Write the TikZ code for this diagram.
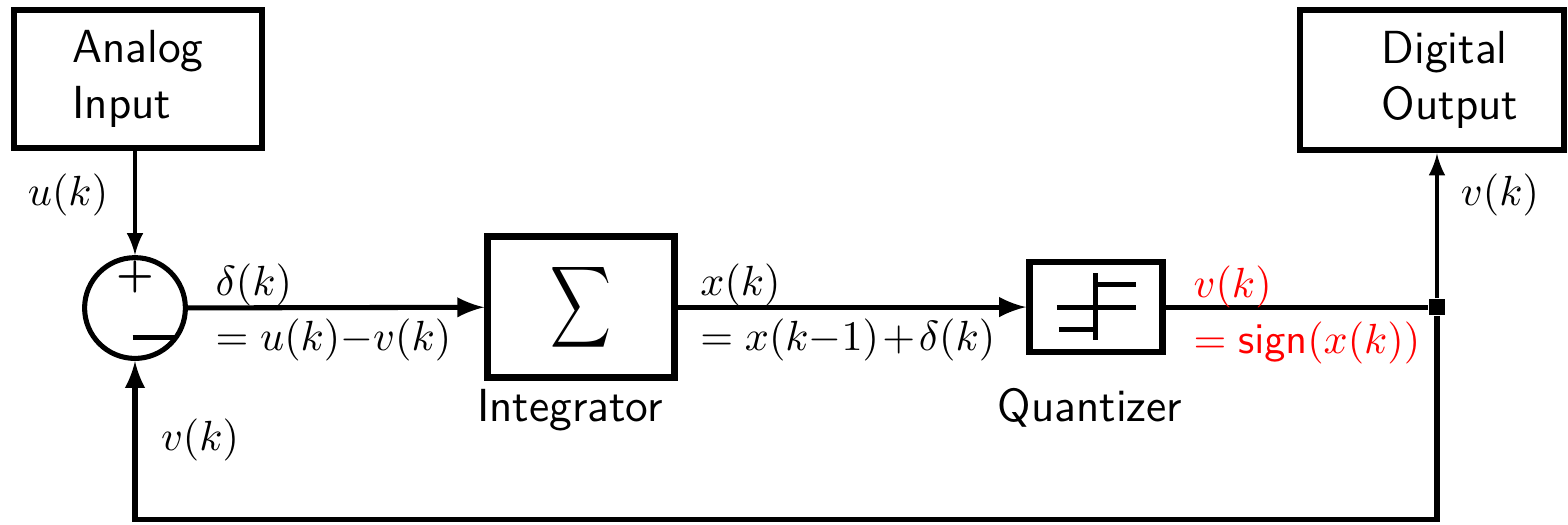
\documentclass[tikz,border=0pt]{standalone}
\usepackage{xcolor}
\usepackage{graphicx}
\usetikzlibrary{calc}

\begin{document}
\begin{tikzpicture}[>=latex]
  \useasboundingbox (0,0) rectangle (13.067,4.367);
  \tikzset{blk/.style={draw,line width=1.5pt,font=\fontsize{11}{13.2}\sffamily,align=left,inner sep=0pt},
           lbl/.style={anchor=west,inner sep=0pt},
           blklbl/.style={font=\fontsize{11}{13.2}\sffamily}}
  % blocks
  \node[blk,minimum width=2.07cm,minimum height=1.15cm] (ain) at (1.15,3.708) {Analog\\Input};
  \node[blk,minimum width=2.2cm,minimum height=1.17cm] (dout) at (11.933,3.70)
    {\hspace*{0.3cm}Digital\\\hspace*{0.3cm}Output};
  \node[draw,circle,line width=1.2pt,minimum size=0.84cm,inner sep=0pt] (sum) at (1.125,1.80) {};
  \node[blk,minimum width=1.56cm,minimum height=1.175cm] (integ) at (4.842,1.808)
    {\raisebox{0.06cm}{\scalebox{1}[1.35]{\large$\displaystyle\sum$}}};
  \node[blk,minimum width=1.11cm,minimum height=0.75cm] (quant) at (9.133,1.808) {};
  \node[fill,minimum size=0.13cm,inner sep=0pt] (junc) at (11.975,1.808) {};
  \coordinate (bot) at (1.125,0.04);
  % signs in the summing point
  \node[inner sep=0pt] (plus) at ($(sum.center)+(0,0.26)$) {\textbf{+}};
  \draw[line width=1.2pt] ($(sum.center)+(-0.02,-0.242)$) -- ($(sum.center)+(0.345,-0.242)$);
  % quantizer symbol
  \draw[line width=1.2pt] ($(quant.center)+(0,0.283)$) -- ($(quant.center)+(0,-0.275)$);
  \draw[line width=1.2pt] ($(quant.center)+(0,0.192)$) -- ++(0.333,0);
  \draw[line width=1.2pt] ($(quant.center)+(-0.325,0)$) -- ++(0.658,0);
  \draw[line width=1.2pt] ($(quant.center)+(-0.308,-0.183)$) -- ++(0.308,0);
  % connectors
  \draw[->,thick] (ain.south -| sum.north) -- (sum.north);
  \draw[->,very thick] (sum) -- (integ);
  \draw[->,very thick] (integ) -- (quant);
  \draw[very thick] (quant) -- (junc);
  \draw[->,thick] (junc) -- (junc |- dout.south);
  \draw[->,very thick] (junc) |- (bot) -- (sum.south);
  % labels
  \node (uk) at (0.567,2.742) {$u(k)$};
  \node (vkout) at (12.5,2.742) {$v(k)$};
  \node (vkfb) at (1.667,0.70) {$v(k)$};
  \node[lbl] (dk) at (1.79,1.99) {$\delta(k)$};
  \node[lbl] (dkeq) at (1.79,1.53) {$=u(k){-}v(k)$};
  \node[lbl] (xk) at (5.83,1.99) {$x(k)$};
  \node[lbl] (xkeq) at (5.83,1.53) {$=x(k{-}1)\mskip1.5mu{+}\mskip1.5mu\delta(k)$};
  \node[lbl,red] (vk) at (9.94,1.975) {$v(k)$};
  \node[lbl,red] (vkeq) at (9.94,1.508) {$=\mathsf{sign}(x(k))$};
  \node[blklbl] (integlbl) at (4.75,0.95) {Integrator};
  \node[blklbl] (quantlbl) at (9.083,0.967) {Quantizer};
\end{tikzpicture}
\end{document}
